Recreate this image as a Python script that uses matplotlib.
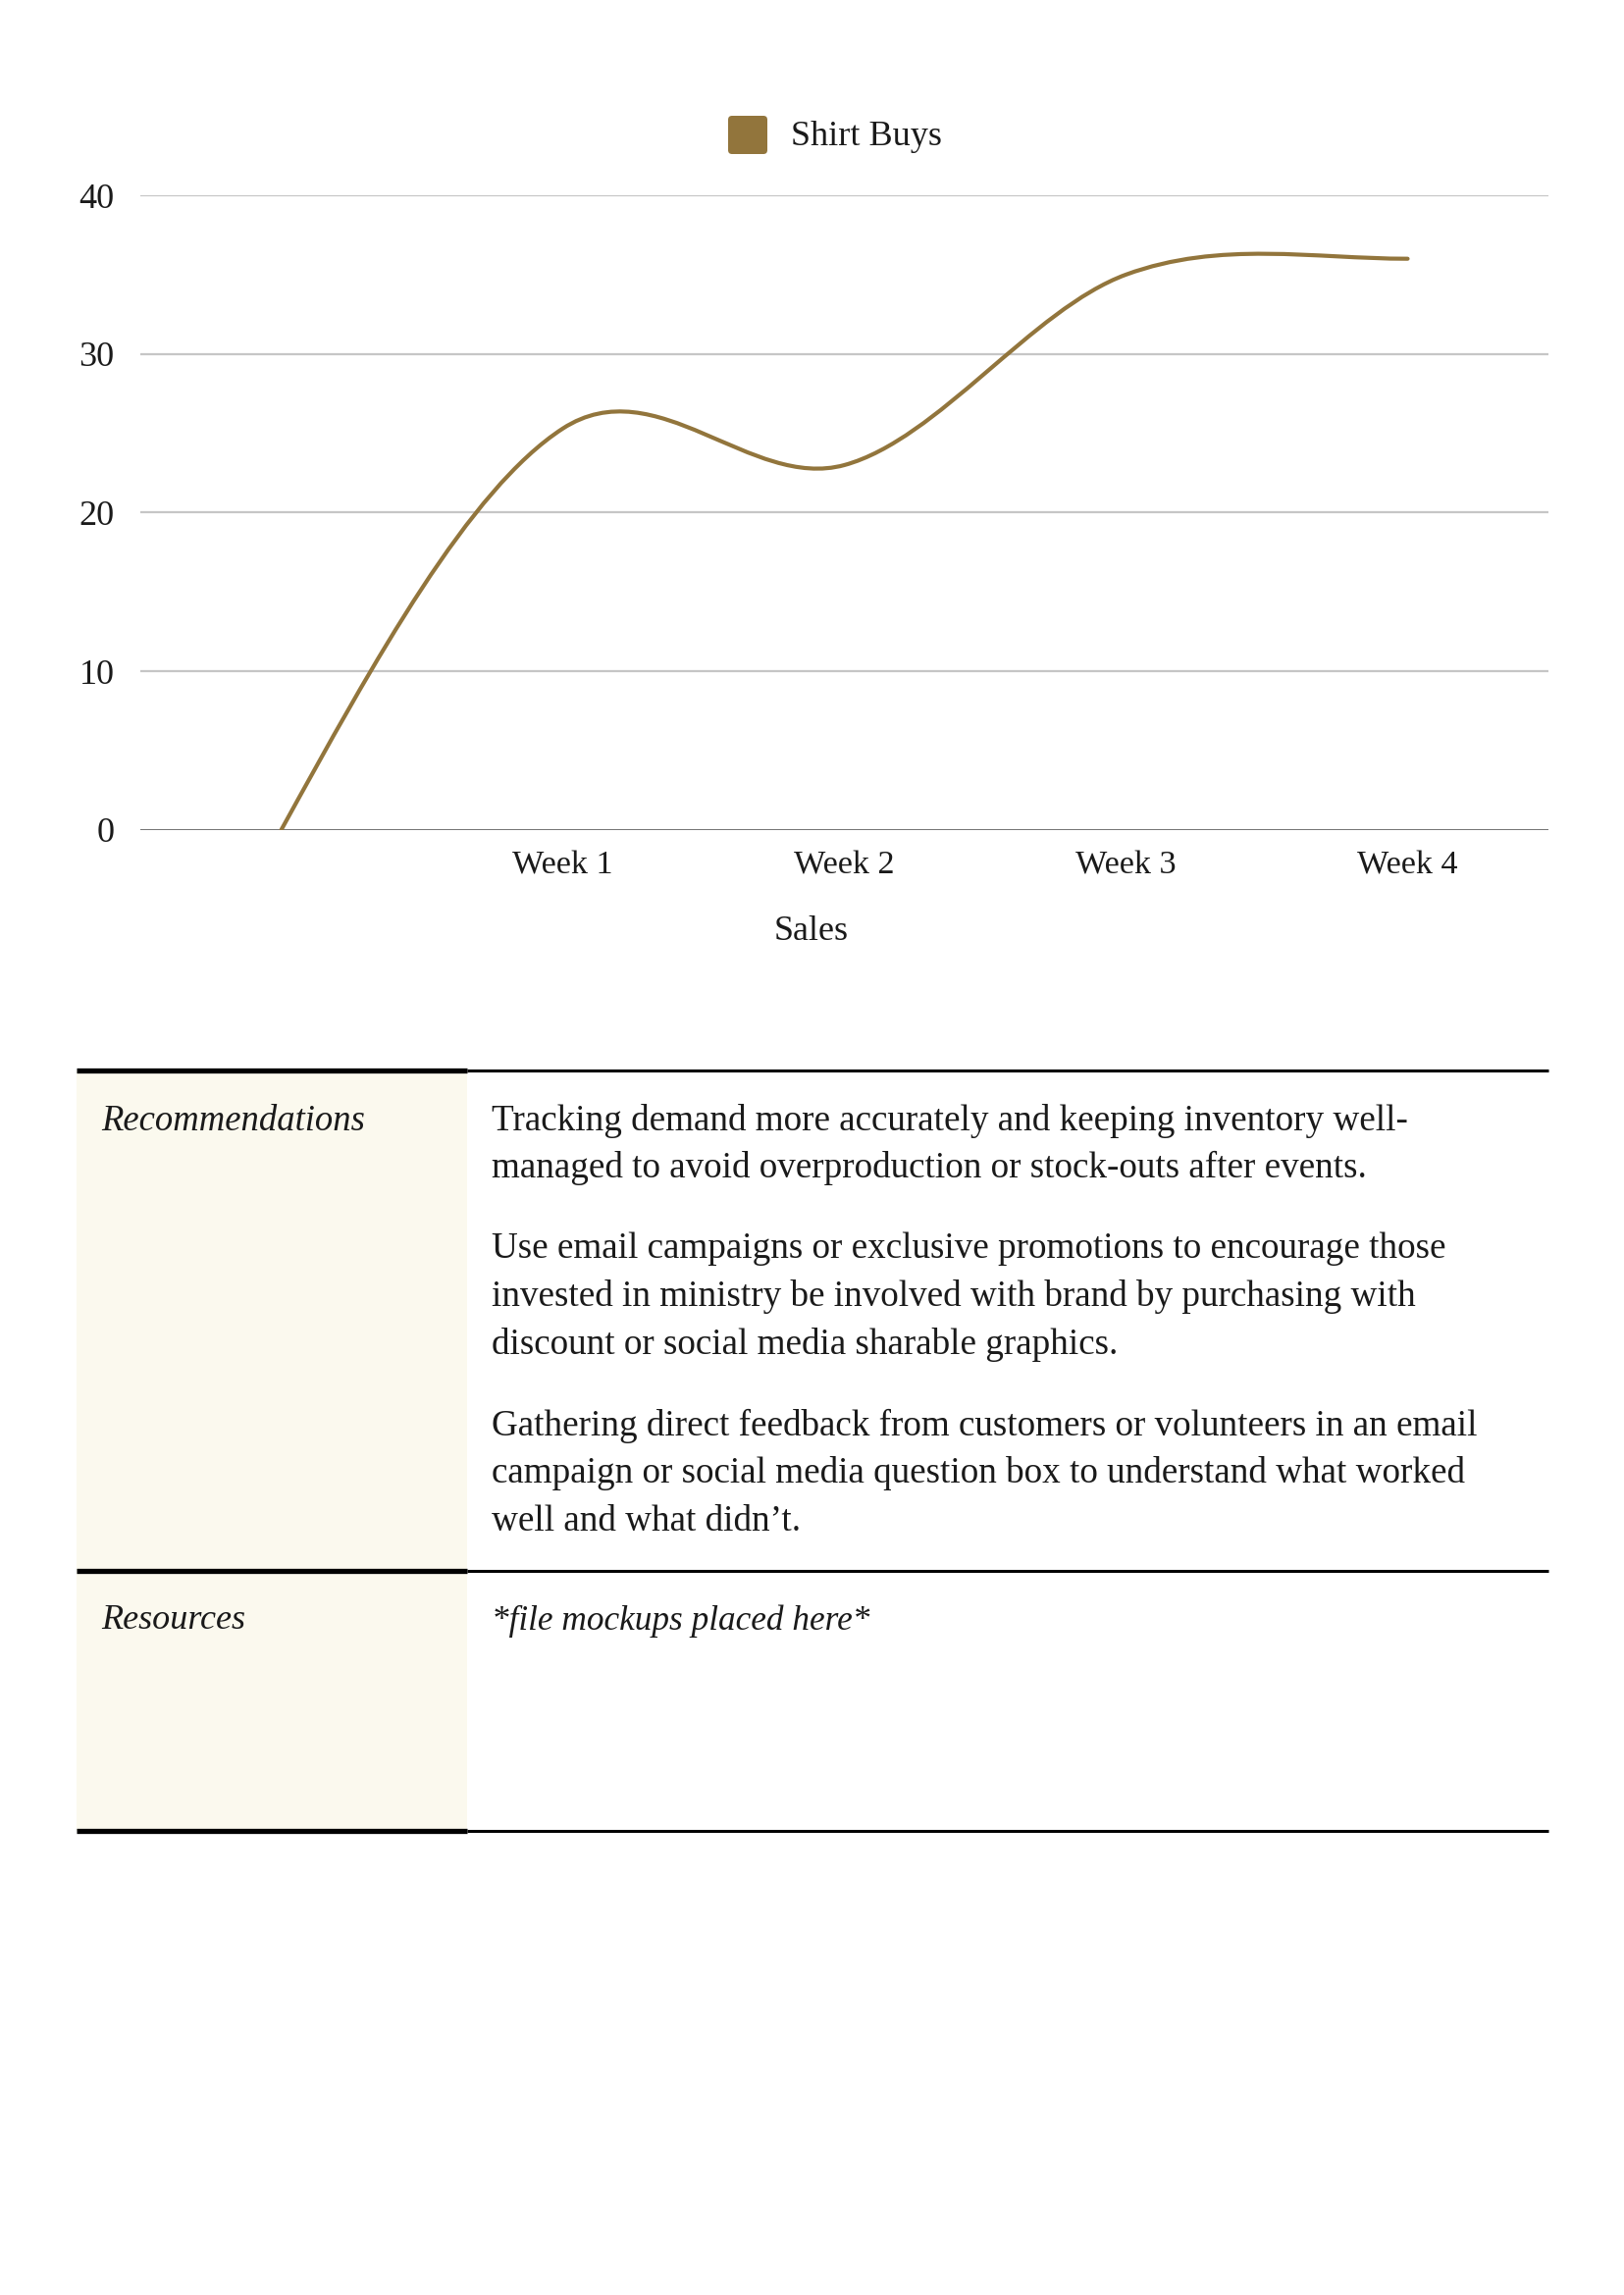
import matplotlib

matplotlib.use("agg")
import matplotlib.pyplot as plt
import numpy as np
from matplotlib.path import Path
from matplotlib.patches import PathPatch, Rectangle, FancyBboxPatch

plt.rcParams.update({
    "font.family": ["Liberation Serif", "DejaVu Serif"],
    "font.size": 12,
})

# ---- data ----
categories = ["", "Week 1", "Week 2", "Week 3", "Week 4"]
shirt_buys = [0, 25.3, 23, 35, 36]
y_ticks = [0, 10, 20, 30, 40]

rec_lines = [
    ["Tracking demand more accurately and keeping inventory well-",
     "managed to avoid overproduction or stock-outs after events."],
    ["Use email campaigns or exclusive promotions to encourage those",
     "invested in ministry be involved with brand by purchasing with",
     "discount or social media sharable graphics."],
    ["Gathering direct feedback from customers or volunteers in an email",
     "campaign or social media question box to understand what worked",
     "well and what didn\u2019t."],
]

LINE = "#92753C"
INK = "#1A1A1A"
CREAM = "#FBF9EE"
W, H = 1655, 2339

fig = plt.figure(figsize=(W / 200, H / 200), dpi=200)

# page overlay in pixel coordinates
page = fig.add_axes([0, 0, 1, 1])
page.set_xlim(0, W)
page.set_ylim(H, 0)
page.axis("off")

# ---- chart ----
ax = fig.add_axes([143 / W, 1 - 846 / H, (1578 - 143) / W, (846 - 199) / H])
xs = np.arange(len(categories), dtype=float)
ys = np.asarray(shirt_buys, dtype=float)
n = len(ys)

# smooth line: cubic Hermite, Catmull-Rom tangents inside,
# natural start, flat at the last point
m = np.zeros(n)
m[1:-1] = (ys[2:] - ys[:-2]) / 2
m[0] = (3 * (ys[1] - ys[0]) - m[1]) / 2
m[-1] = 0.0

verts = [(xs[0], ys[0])]
codes = [Path.MOVETO]
for i in range(n - 1):
    verts += [(xs[i] + 1 / 3, ys[i] + m[i] / 3),
              (xs[i + 1] - 1 / 3, ys[i + 1] - m[i + 1] / 3),
              (xs[i + 1], ys[i + 1])]
    codes += [Path.CURVE4] * 3
ax.add_patch(PathPatch(Path(verts, codes), facecolor="none", edgecolor=LINE,
                       lw=1.5, capstyle="round", zorder=3))

ax.set_xlim(-0.5, len(categories) - 0.5)
ax.set_ylim(0, 40)
ax.set_yticks(y_ticks)
ax.set_xticks(xs)
ax.set_xticklabels(categories)
for t in y_ticks[1:]:
    ax.axhline(t, color="#C6C6C6", lw=0.8, zorder=1)
ax.axhline(0, color="#666666", lw=1.0, zorder=2)
for sp in ax.spines.values():
    sp.set_visible(False)
ax.tick_params(length=0, colors=INK)
ax.tick_params(axis="y", pad=9.5, labelsize=13)
ax.tick_params(axis="x", pad=7.5, labelsize=12.3)
ax.set_facecolor("none")

# legend
page.add_patch(FancyBboxPatch((742, 118), 40, 39,
                              boxstyle="round,pad=0,rounding_size=4",
                              facecolor=LINE, edgecolor="none"))
page.text(806, 140, "Shirt Buys", fontsize=13, color=INK, va="center", ha="left")
page.text(827, 949, "Sales", fontsize=13, color=INK, va="center", ha="center")

# ---- table ----
L, M, R = 78, 476, 1578
page.add_patch(Rectangle((L, 1091), M - L, 1866 - 1091, facecolor=CREAM,
                         edgecolor="none", zorder=0))
for y in (1091, 1601, 1866):
    page.plot([L, M], [y, y], color="black", lw=1.9, solid_capstyle="butt")
    page.plot([M, R], [y, y], color="black", lw=1.1, solid_capstyle="butt")

page.text(103, 1143, "Recommendations", fontsize=13.2, style="italic",
          color=INK, va="center")
page.text(103, 1652, "Resources", fontsize=13.0, style="italic",
          color=INK, va="center")
page.text(501, 1652, "*file mockups placed here*", fontsize=12.7,
          style="italic", color=INK, va="center")

para_top = [1142, 1273, 1453]
for top, lines in zip(para_top, rec_lines):
    for j, s in enumerate(lines):
        page.text(501, top + j * 48.7, s, fontsize=13.35, color=INK,
                  va="center", ha="left")

fig.savefig("out.png", dpi=200)
